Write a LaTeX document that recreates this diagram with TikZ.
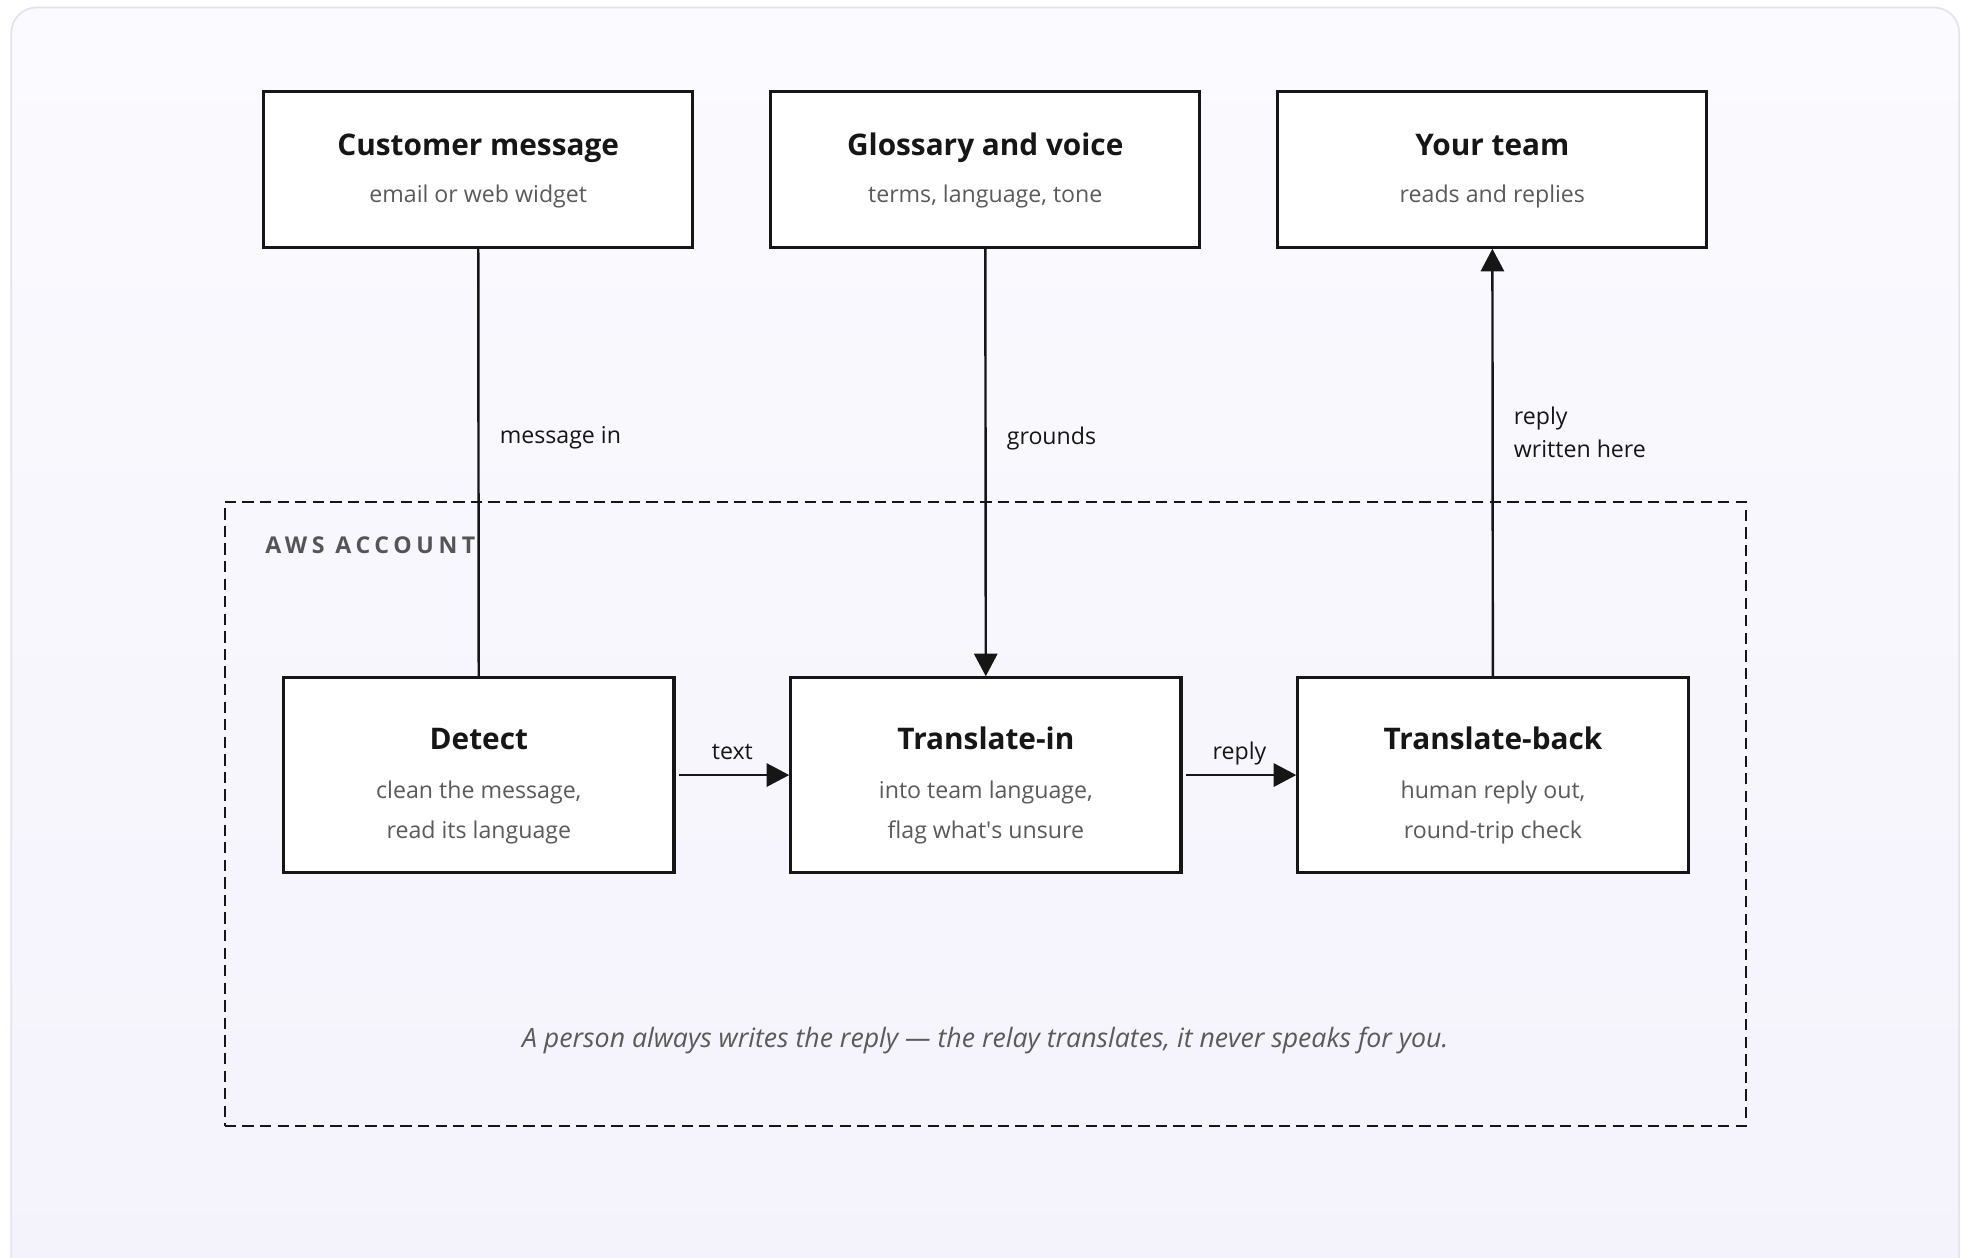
\documentclass[tikz,border=0pt]{standalone}
\usepackage{fontspec}
\setmainfont{Open Sans}
\usetikzlibrary{arrows.meta}

\definecolor{ink}{HTML}{161616}
\definecolor{subgray}{HTML}{5A5A5A}
\definecolor{capgray}{HTML}{555555}
\definecolor{panelline}{HTML}{E4E2EE}
\definecolor{paneltop}{HTML}{FBFAFE}
\definecolor{panelbot}{HTML}{F4F3FC}

\newcommand{\ttl}[1]{{\fontsize{13.5}{16}\selectfont\bfseries\color{ink}#1}}
\newcommand{\sbt}[1]{{\color{subgray}#1}}

\begin{document}
\begin{tikzpicture}[x=0.02cm, y=-0.02cm]
	\tikzset{box/.style={draw=ink, line width=1.4pt, fill=white, minimum width=6.84cm, minimum height=2.48cm,
			align=center, inner sep=0pt, font=\fontsize{10.5}{18}\selectfont, text height=1.26cm, text depth=0.2cm},
		stage/.style={box, minimum width=6.22cm, minimum height=3.1cm, text height=2.24cm, text depth=0.22cm},
		acct/.style={draw=ink, line width=1.1pt, dash pattern=on 0.18cm off 0.1cm, minimum width=24.24cm, minimum height=9.94cm, inner sep=0pt},
		lbl/.style={font=\fontsize{10.5}{14.7}\selectfont, text=ink, inner sep=0pt, align=left},
		flow/.style={draw=ink, line width=1.1pt},
		arr/.style={flow, -{Triangle[length=0.36cm, width=0.37cm]}}};

	\useasboundingbox (0,0) rectangle (1568,1002);
	\clip (0,0) rectangle (1568,1002);
	\draw[panelline, line width=0.8pt, top color=paneltop, bottom color=panelbot, rounded corners=0.4cm] (9,6) rectangle (1561,1040);

	% account
	\node[acct] (aws) at (785,648.5) {};
	\node[anchor=west, inner sep=0pt, text=capgray, font=\fontsize{10.5}{12}\selectfont\bfseries\addfontfeature{LetterSpace=20}] (awslbl) at (211,434) {AWS ACCOUNT};

	\node[box] (cm) at (381,135) {\ttl{Customer message}\\[3.5pt]\sbt{email or web widget}};
	\node[box] (gl) at (785,135) {\ttl{Glossary and voice}\\[3.5pt]\sbt{terms, language, tone}};
	\node[box] (team) at (1189,135) {\ttl{Your team}\\[3.5pt]\sbt{reads and replies}};

	\node[stage] (det) at (381.5,617.5) {\ttl{Detect}\\[4.5pt]\sbt{clean the message,}\\\sbt{read its language}};
	\node[stage] (tin) at (785.5,617.5) {\ttl{Translate-in}\\[4.5pt]\sbt{into team language,}\\\sbt{flag what\textquotesingle s unsure}};
	\node[stage] (tback) at (1189.5,617.5) {\ttl{Translate-back}\\[4.5pt]\sbt{human reply out,}\\\sbt{round-trip check}};

	\draw[flow] (cm) -- node[lbl, pos=0.443, anchor=west, xshift=0.32cm] (lin) {message in} (det);
	\draw[arr] (gl) -- node[lbl, pos=0.443, anchor=west, xshift=0.32cm] (lgr) {grounds} (tin);
	\draw[arr] (tback) -- node[lbl, pos=0.571, anchor=west, xshift=0.32cm] (lrep) {reply\\written here} (team);

	\draw[arr, shorten <=0.06cm] (det) -- node[lbl, midway, anchor=base, yshift=0.24cm] (ltxt) {text} (tin);
	\draw[arr, shorten <=0.06cm] (tin) -- node[lbl, midway, anchor=base, yshift=0.24cm] (lrpl) {reply} (tback);

	\node[text=subgray, font=\fontsize{12.1}{14}\selectfont\itshape] (note) at (785,829) {A person always writes the reply --- the relay translates, it never speaks for you.};
\end{tikzpicture}
\end{document}
